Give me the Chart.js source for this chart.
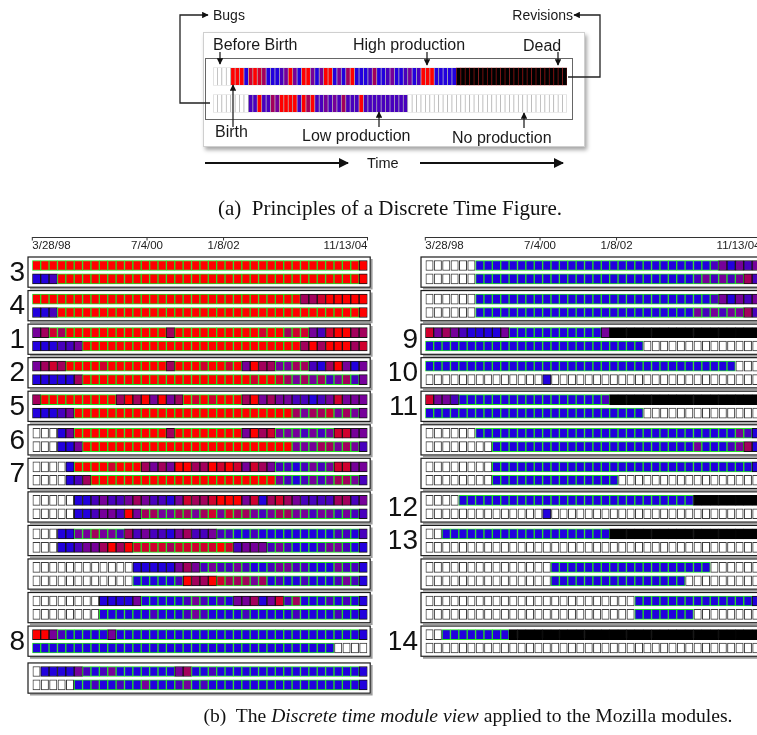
<!DOCTYPE html>
<html>
<head>
<meta charset="utf-8">
<script src="https://cdn.jsdelivr.net/npm/chart.js@4.4.0/dist/chart.umd.min.js"></script>
<style>
  html, body { margin: 0; padding: 0; background: #fff; }
  body { width: 757px; height: 735px; overflow: hidden; position: relative; }
  canvas, svg { position: absolute; }
  .diag-box { position: absolute; left: 203px; top: 32px; width: 380px; height: 113px;
    border: 1px solid #cfcfcf; box-shadow: 2px 3px 4px rgba(0,0,0,.35); background: #fff; }
  .diag-inner { position: absolute; left: 205px; top: 58px; width: 366px; height: 60px; border: 1px solid #666; }
</style>
</head>
<body>
<div class="diag-box"></div>
<div class="diag-inner"></div>
<canvas id="diagram" width="354" height="54" style="left:213px;top:63px"></canvas>

<svg width="757" height="735" style="left:0;top:0">
  <defs>
    <marker id="ah" viewBox="0 0 10 10" refX="9" refY="5" markerWidth="5" markerHeight="5" orient="auto">
      <path d="M0,0 L10,5 L0,10 z" fill="#111"/>
    </marker>
  </defs>
  <g stroke="#222" stroke-width="1.3" fill="none">
    <polyline points="210,103 180,103 180,15 208,15" marker-end="url(#ah)"/>
    <polyline points="568,77 600,77 600,15 574,15" marker-end="url(#ah)"/>
    <line x1="220" y1="52" x2="220" y2="64" marker-end="url(#ah)"/>
    <line x1="427" y1="52" x2="427" y2="65" marker-end="url(#ah)"/>
    <line x1="558" y1="52" x2="558" y2="65" marker-end="url(#ah)"/>
    <line x1="233" y1="127" x2="233" y2="85" marker-end="url(#ah)"/>
    <line x1="379" y1="127" x2="379" y2="112" marker-end="url(#ah)"/>
    <line x1="524" y1="128" x2="524" y2="113" marker-end="url(#ah)"/>
  </g>
  <g stroke="#111" stroke-width="2" fill="none">
    <line x1="205" y1="163" x2="348" y2="163" marker-end="url(#ah)"/>
    <line x1="420" y1="163" x2="563" y2="163" marker-end="url(#ah)"/>
  </g>
  <g font-family="Liberation Sans, Arial, sans-serif" fill="#1a1a1a">
    <text x="213" y="20" font-size="14">Bugs</text>
    <text x="573" y="20" font-size="14" text-anchor="end">Revisions</text>
    <text x="213" y="50" font-size="16">Before Birth</text>
    <text x="353" y="50" font-size="16">High production</text>
    <text x="523" y="51" font-size="16">Dead</text>
    <text x="215" y="137" font-size="16">Birth</text>
    <text x="302" y="141" font-size="16">Low production</text>
    <text x="452" y="143" font-size="16">No production</text>
    <text x="367" y="168" font-size="14.5">Time</text>
  </g>
  <g font-family="Liberation Serif, Times New Roman, serif" fill="#111">
    <text x="390" y="215" text-anchor="middle" font-size="21">(a)&#160; Principles of a Discrete Time Figure.</text>
    <text x="468" y="722" text-anchor="middle" font-size="19.6">(b)&#160; The <tspan font-style="italic">Discrete time module view</tspan> applied to the Mozilla modules.</text>
  </g>
</svg>

<canvas id="leftCol" width="400" height="735" style="left:0;top:0"></canvas>
<canvas id="rightCol" width="400" height="735" style="left:390px;top:0"></canvas>

<script>
// cell codes: w white, b blue, i indigo, p purple, m magenta, c crimson, r red, k black
// lower case = cell inside the green (active) band, upper case = dark outline
const diagramRows = [
  "w4 r3 b c r c m b3 i p r p b r2 p b p r2 b p b m r b3 i m b2 i p b2 i p b i r3 b5 k25",
  "w8 i2 r i2 m p r4 i r m r i2 p i p i m i3 r i10 w36"
];

const dateLabels = ["3/28/98", "7/4/00", "1/8/02", "11/13/04"];
const dateValues = ["1998-03-28", "2000-07-04", "2002-01-08", "2004-11-13"];

const leftLabels = ["3", "4", "1", "2", "5", "6", "7", "", "", "", "", "8", ""];
const leftTop = [
  "r39 R",
  "r32 M2 C R5",
  "P M c m r12 M r10 c r2 m c2 P I C R2 M2",
  "P M C M r4 c r7 M r3 c r2 c r P R M2 p2 m2 I B M R P B P",
  "M r9 M R M R P R P M r c r c r3 M R P M P2 I2 B I P C P3",
  "W3 B P r11 M r8 P R M C p3 i p i p C2 P2",
  "W4 B r4 c r3 M P M P R2 M2 R C R C P C M P i2 b i p i p C2 P2",
  "W5 B2 I P I2 P M P I2 B P C M2 C R3 P C B M C M P I4 M2 I P",
  "W3 B2 p2 m p2 i M I P I2 B P M I2 P i2 b2 i b9 i2 b I",
  "W12 B5 P M P i p i2 p i b2 i p2 i2 b3 p i2 B",
  "W8 B4 P b5 i p i b i b P2 M B P C i m b3 i b i b B",
  "R2 P i b5 P b29 B",
  "W B4 P i b i p b7 P M b2 i b17 B"
];
const leftBottom = [
  "B2 I r36 R",
  "B2 I r36 R",
  "B3 I2 P r26 M R M R3 M C",
  "B5 M r20 c r2 c m p m p m i p m i P",
  "B3 I P r26 m p m2 c p m p P",
  "W3 B2 P r25 p3 m2 p m p I",
  "W4 B I M r22 p i b i p i p m2 p I",
  "W5 B2 I P2 I R P m2 p2 m2 p m c p c m2 p i p m2 p2 i p2 i p i I",
  "W3 B2 I P2 M R M R c4 m c5 r c I P3 i p i b3 i p2 i b B",
  "W12 b5 i R M2 R c m3 p m b i b2 i b3 i p i B",
  "W8 b6 i b3 i p i b4 i b5 i b4 i b2 B",
  "b36 W4",
  "W5 b2 i b2 i b2 p b3 i p b i b18 B"
];

const rightLabels = ["", "", "9", "10", "11", "", "", "12", "13", "", "", "14"];
const rightTop = [
  "W6 b28 i P B P I P",
  "W6 b28 i P B P I P",
  "C P M P I B4 P b11 P K18",
  "b37 W3",
  "C P2 I b17 i K18",
  "W6 b31 p i B",
  "W8 b31 B",
  "W4 b28 K8",
  "W2 b20 K18",
  "W15 b19 W6",
  "W25 b14 B",
  "W2 b8 K30"
];
const rightBottom = [
  "W6 b26 i p i p i p M I",
  "W6 b26 p i p i p2 M I",
  "b26 W14",
  "W14 B W25",
  "b26 W14",
  "W8 b24 p b3 i p M B",
  "W8 b15 W17",
  "W14 B W25",
  "W40",
  "W15 b16 W9",
  "W25 b7 W8",
  "W40"
];

const PALETTE = {
  w: "#ffffff", b: "#2200dd", i: "#4800bd", p: "#76009a",
  m: "#a3005c", c: "#d0002e", r: "#ff0000", k: "#000000"
};
const CELLS = 40;
const ROW_PX = 13.42;   // pixels per row unit
const ROW_Y0 = 265.5;   // page y of the first row centre
const CANVAS_H = 735;

function decode(rle, n) {
  const out = [];
  rle.trim().split(/\s+/).forEach(function (tok) {
    const cnt = tok.length > 1 ? parseInt(tok.slice(1), 10) : 1;
    for (let j = 0; j < cnt; j++) out.push(tok[0]);
  });
  while (out.length < n) out.push(out[out.length - 1]);
  return out.slice(0, n);
}

function cellDatasets(rows, yValues, n, look) {
  return rows.map(function (rle, r) {
    const cells = decode(rle, n);
    return {
      data: cells.map(function (ch, i) {
        const gap = ch === "W" ? look.whiteInset : 0;
        return { x: [i + gap, i + 1 - gap], y: yValues[r] };
      }),
      backgroundColor: cells.map(function (ch) { return PALETTE[ch.toLowerCase()]; }),
      borderColor: cells.map(look.border),
      borderWidth: look.borderWidth,
      borderSkipped: false,
      barThickness: look.thickness,
      grouped: false
    };
  });
}

const diagramLook = {
  thickness: 17.5, borderWidth: 0.7, whiteInset: 0,
  border: function (ch) {
    if (ch === "w") return "#b0b0b0";
    if (ch === "k") return "#8a1010";
    return "rgba(0,0,0,0.22)";
  }
};

const moduleLook = {
  thickness: 10, borderWidth: 1, whiteInset: 0.06,
  border: function (ch) {
    if (ch === "W") return "#3a3a3a";
    if (ch === "K") return "#000000";
    return ch === ch.toLowerCase() ? "#22dd22" : "#151515";
  }
};

// diagram (a)
new Chart(document.getElementById("diagram"), {
  type: "bar",
  data: { datasets: cellDatasets(diagramRows, [0, 1], 80, diagramLook) },
  options: {
    indexAxis: "y",
    responsive: false,
    animation: false,
    events: [],
    layout: { padding: 0 },
    scales: {
      x: { type: "linear", min: 0, max: 80, display: false, offset: false },
      y: { type: "linear", min: -0.5, max: 1.5, reverse: true, display: false, offset: false }
    },
    plugins: { legend: { display: false }, tooltip: { enabled: false } }
  }
});

// frames, module numbers and the date axis
const moduleFrames = {
  id: "moduleFrames",
  beforeDatasetsDraw(chart, args, opts) {
    const ctx = chart.ctx;
    const x = chart.scales.x, y = chart.scales.y;
    const left = x.getPixelForValue(0) - 4.3;
    const right = x.getPixelForValue(CELLS) + 2.7;
    ctx.save();
    opts.labels.forEach(function (label, m) {
      const top = y.getPixelForValue(opts.yTop[m]) - 8.5;
      const bottom = y.getPixelForValue(opts.yBottom[m]) + 8.3;
      // soft shadow on the right and bottom
      ctx.strokeStyle = "#9c9c9c";
      ctx.lineWidth = 1.6;
      ctx.beginPath();
      ctx.moveTo(left + 2, bottom + 1.6);
      ctx.lineTo(right + 1.6, bottom + 1.6);
      ctx.lineTo(right + 1.6, top + 2);
      ctx.stroke();
      ctx.strokeStyle = "#1c1c1c";
      ctx.lineWidth = 1.2;
      ctx.strokeRect(left, top, right - left, bottom - top);
      if (label) {
        ctx.fillStyle = "#111";
        ctx.font = '28px "Liberation Sans", Arial, sans-serif';
        ctx.textAlign = "right";
        ctx.textBaseline = "middle";
        ctx.fillText(label, left - 3, (top + bottom) / 2 + 1);
      }
    });

    // date axis
    const axisY = y.getPixelForValue(opts.yTop[0]) - 28.5;
    const x0 = x.getPixelForValue(0), x1 = x.getPixelForValue(CELLS);
    ctx.strokeStyle = "#333";
    ctx.lineWidth = 1;
    ctx.beginPath();
    ctx.moveTo(x0, axisY + 0.5);
    ctx.lineTo(x1, axisY + 0.5);
    ctx.stroke();
    const t0 = Date.parse(dateValues[0]);
    const t1 = Date.parse(dateValues[dateValues.length - 1]);
    ctx.font = '11.5px "Liberation Sans", Arial, sans-serif';
    ctx.fillStyle = "#222";
    ctx.textBaseline = "middle";
    dateLabels.forEach(function (lab, k) {
      const v = (Date.parse(dateValues[k]) - t0) / (t1 - t0) * CELLS;
      const px = x.getPixelForValue(v);
      ctx.beginPath();
      ctx.moveTo(px, axisY);
      ctx.lineTo(px, axisY + 3.5);
      ctx.stroke();
      ctx.textAlign = k === 0 ? "left" : (k === dateLabels.length - 1 ? "right" : "center");
      ctx.fillText(lab, px, axisY + 8.5);
    });
    ctx.restore();
  }
};

function columnChart(id, labels, tops, bottoms, extraGapAt, padLeft, padRight) {
  const yTop = [], yBottom = [], rows = [], ys = [];
  labels.forEach(function (_, m) {
    const base = m * 2.5 + (m >= extraGapAt ? 0.25 : 0);
    yTop.push(base);
    yBottom.push(base + 1);
    rows.push(tops[m], bottoms[m]);
    ys.push(base, base + 1);
  });
  const last = yBottom[yBottom.length - 1];
  const padTop = ROW_Y0 - 0.65 * ROW_PX;
  const h = (last + 1.3) * ROW_PX;

  return new Chart(document.getElementById(id), {
    type: "bar",
    data: { datasets: cellDatasets(rows, ys, CELLS, moduleLook) },
    options: {
      indexAxis: "y",
      responsive: false,
      animation: false,
      events: [],
      layout: { padding: { left: padLeft, right: padRight, top: padTop, bottom: CANVAS_H - padTop - h } },
      scales: {
        x: { type: "linear", min: 0, max: CELLS, display: false, offset: false },
        y: { type: "linear", min: -0.65, max: last + 0.65, reverse: true, display: false, offset: false }
      },
      plugins: {
        legend: { display: false },
        tooltip: { enabled: false },
        moduleFrames: { labels: labels, yTop: yTop, yBottom: yBottom }
      }
    },
    plugins: [moduleFrames]
  });
}

columnChart("leftCol", leftLabels, leftTop, leftBottom, 12, 32.3, 32.5);
columnChart("rightCol", rightLabels, rightTop, rightBottom, 99, 35.3, 29.5);
</script>
</body>
</html>
